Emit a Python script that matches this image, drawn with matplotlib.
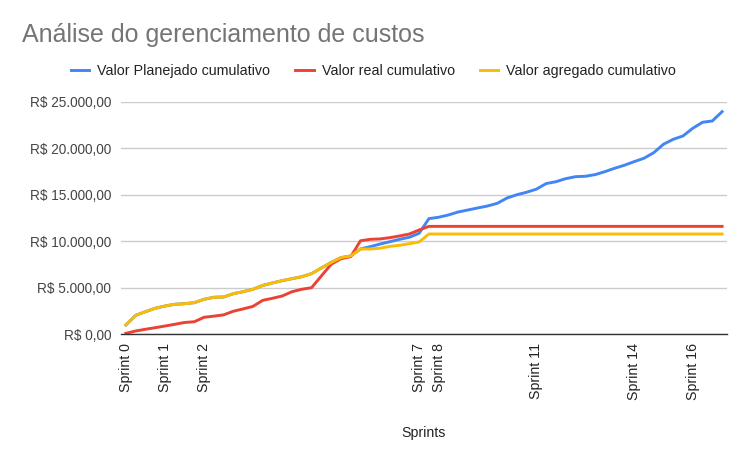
import matplotlib
matplotlib.use("Agg")
import matplotlib.pyplot as plt
from matplotlib.ticker import FuncFormatter

plt.rcParams['font.family'] = ['Liberation Sans', 'DejaVu Sans']

# Valores cumulativos (R$) por ponto da linha do tempo
planejado = [1000, 2040, 2430, 2795, 3040, 3225, 3290, 3400, 3760, 3980,
             4010, 4365, 4580, 4840, 5250, 5520, 5770, 5980, 6190, 6520,
             7130, 7720, 8240, 8420, 9170, 9420, 9700, 9950, 10210, 10430,
             10860, 12430, 12580, 12825, 13150, 13360, 13580, 13790, 14080, 14650,
             15000, 15270, 15600, 16200, 16400, 16730, 16940, 16985, 17160, 17480,
             17845, 18170, 18555, 18920, 19520, 20425, 20960, 21320, 22145, 22790,
             22930, 23930]
real = [100, 355, 540, 710, 890, 1075, 1270, 1350, 1830, 1950,
        2090, 2480, 2730, 3000, 3650, 3870, 4120, 4580, 4840, 5010,
        6270, 7525, 8120, 8340, 10050, 10210, 10250, 10385, 10570, 10780,
        11210] + [11600] * 31
agregado = [1000, 2040, 2430, 2795, 3040, 3225, 3290, 3400, 3760, 3980,
            4010, 4365, 4580, 4840, 5250, 5520, 5770, 5980, 6190, 6520,
            7130, 7720, 8240, 8420, 9170, 9170, 9250, 9450, 9570, 9740,
            9920] + [10780] * 31

sprint_pos = [0, 4, 8, 30, 32, 42, 52, 58]
sprint_labels = ["Sprint 0", "Sprint 1", "Sprint 2", "Sprint 7", "Sprint 8",
                 "Sprint 11", "Sprint 14", "Sprint 16"]
y_ticks = [0, 5000, 10000, 15000, 20000, 25000]


def reais(v, pos=None):
    s = f"{v:,.2f}".replace(",", "X").replace(".", ",").replace("X", ".")
    return "R$ " + s


x = list(range(len(planejado)))

fig = plt.figure(figsize=(7.47, 4.61), dpi=100)
ax = fig.add_axes([121 / 747, 1 - 334.3 / 461, 606 / 747, 232.6 / 461])

ax.plot(x, planejado, color='#4285F4', lw=2.1, label='Valor Planejado cumulativo')
ax.plot(x, real, color='#EA4335', lw=2.1, label='Valor real cumulativo')
ax.plot(x, agregado, color='#FBBC04', lw=2.1, label='Valor agregado cumulativo')

ax.set_xlim(-0.5, len(x) - 0.5)
ax.set_ylim(0, 25000)
ax.set_yticks(y_ticks)
ax.yaxis.set_major_formatter(FuncFormatter(reais))
ax.set_xticks(sprint_pos)
ax.set_xticklabels(sprint_labels, rotation=90)
ax.tick_params(axis='y', length=0, pad=7, labelsize=9.8, labelcolor='#444444')
ax.tick_params(axis='x', length=0, pad=6, labelsize=10.2, labelcolor='#222222')

ax.grid(axis='y', color='#cccccc', lw=1)
ax.set_axisbelow(True)
for lado in ['top', 'right', 'left']:
    ax.spines[lado].set_visible(False)
ax.spines['bottom'].set_color('#333333')
ax.spines['bottom'].set_linewidth(1)

fig.text(22 / 747, 1 - 35 / 461, "Análise do gerenciamento de custos",
         fontsize=18, color='#757575', va='center', ha='left')
fig.text(424 / 747, 1 - 433 / 461, "Sprints", fontsize=10.2, color='#222222',
         ha='center', va='center')
fig.legend(loc='center', bbox_to_anchor=(0.5, 1 - 71 / 461), ncol=3,
           frameon=False, fontsize=10.3, handlelength=1.3, handletextpad=0.55,
           columnspacing=1.75, labelcolor='#222222')

fig.savefig("out.png", dpi=100)
